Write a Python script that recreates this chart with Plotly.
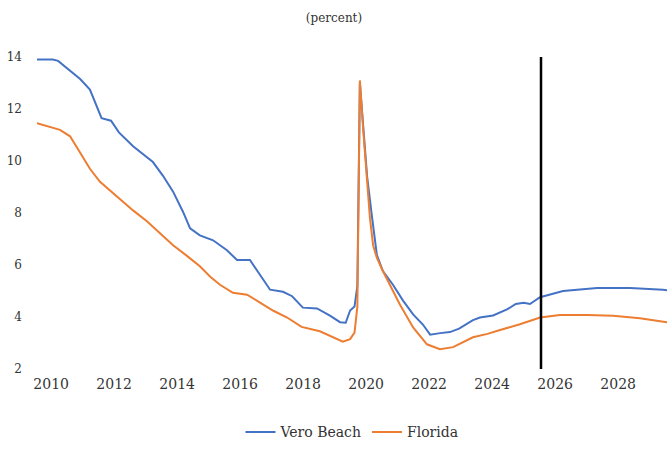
import plotly.graph_objects as go

# Unemployment rate, percent; time in decimal years
vero_t = [2010.0, 2010.5, 2010.67, 2011.05, 2011.37, 2011.68, 2011.9, 2012.05, 2012.35, 2012.6,
          2013.05, 2013.37, 2013.68, 2014.0, 2014.32, 2014.63, 2014.86, 2015.17, 2015.59, 2016.03,
          2016.35, 2016.76, 2016.98, 2017.17, 2017.4, 2017.81, 2018.1, 2018.44, 2018.89, 2019.3,
          2019.62, 2019.8, 2019.94, 2020.08, 2020.17, 2020.25, 2020.33, 2020.48, 2020.63, 2020.79,
          2020.98, 2021.3, 2021.62, 2021.94, 2022.25, 2022.48, 2022.8, 2023.11, 2023.4, 2023.84,
          2024.06, 2024.48, 2024.92, 2025.2, 2025.45, 2025.65, 2025.97, 2026.7, 2027.78, 2028.83,
          2029.87, 2030.0]
vero_v = [13.9, 13.9, 13.85, 13.45, 13.15, 12.75, 12.1, 11.65, 11.55, 11.1,
          10.57, 10.27, 9.96, 9.43, 8.82, 8.06, 7.41, 7.14, 6.95, 6.57,
          6.19, 6.19, 5.8, 5.45, 5.05, 4.97, 4.8, 4.36, 4.33, 4.05,
          3.8, 3.78, 4.25, 4.4, 5.2, 13.0, 11.7, 9.4, 7.9, 6.38,
          5.77, 5.24, 4.63, 4.1, 3.71, 3.32, 3.38, 3.42, 3.55, 3.88,
          3.98, 4.06, 4.29, 4.5, 4.55, 4.5, 4.76, 5.0, 5.12, 5.12,
          5.05, 5.03]

florida_t = [2010.0, 2010.41, 2010.73, 2011.05, 2011.37, 2011.68, 2012.0, 2012.32, 2012.63, 2013.05,
             2013.49, 2013.9, 2014.32, 2014.76, 2015.17, 2015.5, 2015.81, 2016.22, 2016.67, 2017.08,
             2017.49, 2017.94, 2018.4, 2018.98, 2019.4, 2019.71, 2019.94, 2020.08, 2020.17, 2020.25,
             2020.35, 2020.48, 2020.57, 2020.67, 2020.79, 2020.98, 2021.21, 2021.52, 2021.94, 2022.38,
             2022.79, 2023.21, 2023.84, 2024.3, 2024.7, 2025.33, 2025.97, 2026.6, 2027.46, 2028.29,
             2029.14, 2030.0]
florida_v = [11.45, 11.3, 11.2, 10.95, 10.34, 9.7, 9.2, 8.86, 8.55, 8.1,
             7.68, 7.22, 6.76, 6.35, 5.95, 5.55, 5.24, 4.93, 4.86, 4.55,
             4.25, 3.98, 3.62, 3.45, 3.22, 3.05, 3.15, 3.4, 4.4, 13.1,
             11.3, 9.05, 7.8, 6.76, 6.27, 5.77, 5.24, 4.48, 3.6, 2.95,
             2.76, 2.84, 3.22, 3.35, 3.5, 3.72, 3.98, 4.08, 4.08, 4.05,
             3.95, 3.8]

tick_years = [2010, 2012, 2014, 2016, 2018, 2020, 2022, 2024, 2026, 2028]
y_ticks = [2, 4, 6, 8, 10, 12, 14]
forecast_start = 2026.0

FONT = "DejaVu Serif"
TEXT = "#333333"

fig = go.Figure()
fig.add_trace(go.Scatter(x=vero_t, y=vero_v, mode="lines", name="Vero Beach",
                         line=dict(color="#4472C4", width=2)))
fig.add_trace(go.Scatter(x=florida_t, y=florida_v, mode="lines", name="Florida",
                         line=dict(color="#ED7D31", width=2)))

# forecast divider
fig.add_shape(type="line", xref="x", yref="y",
              x0=forecast_start, x1=forecast_start, y0=min(y_ticks), y1=max(y_ticks),
              line=dict(color="black", width=2.5))

fig.update_layout(
    width=668, height=449,
    margin=dict(l=37, r=1, t=57, b=77),
    paper_bgcolor="white", plot_bgcolor="white",
    font=dict(family=FONT, color=TEXT),
    title=dict(text="(percent)", x=0.5, xanchor="center", y=1 - 18 / 449, yanchor="middle",
               font=dict(family=FONT, size=12, color=TEXT)),
    showlegend=True,
    legend=dict(orientation="h", x=0.5, xanchor="center", y=-0.203, yanchor="middle",
                font=dict(family=FONT, size=14, color=TEXT), itemwidth=30,
                traceorder="normal"),
    xaxis=dict(range=[2010, 2030], showgrid=False, zeroline=False, showline=False,
               tickmode="array", tickvals=[t + 0.45 for t in tick_years],
               ticktext=[str(t) for t in tick_years],
               tickfont=dict(family=FONT, size=14, color=TEXT),
               ticks="", ticklabelstandoff=5),
    yaxis=dict(range=[min(y_ticks), max(y_ticks)], showgrid=False, zeroline=False,
               showline=False, tickmode="array", tickvals=y_ticks,
               tickfont=dict(family=FONT, size=12, color=TEXT),
               ticks="", ticklabelstandoff=14),
)

fig.write_html("out.html")
